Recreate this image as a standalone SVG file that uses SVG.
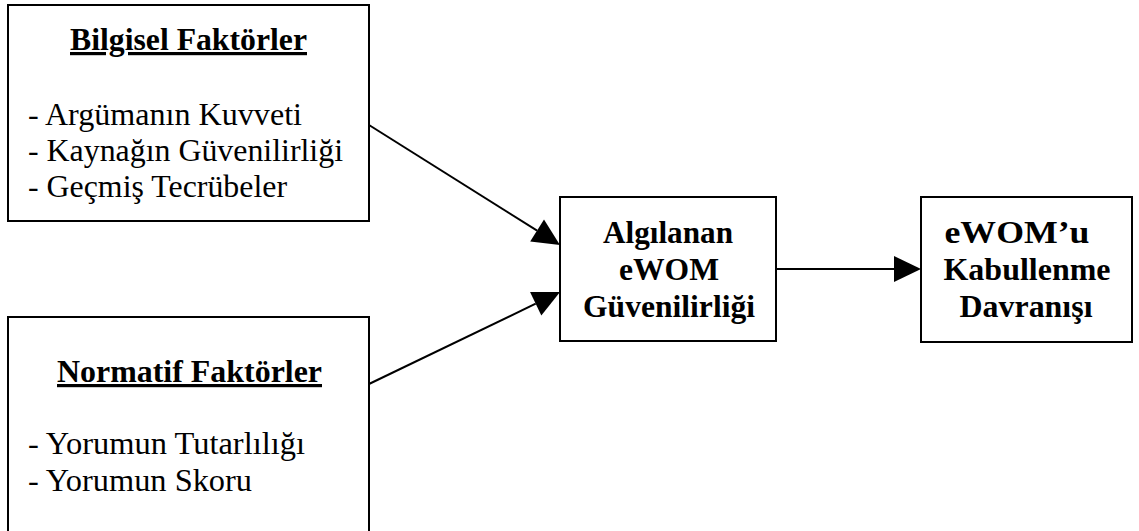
<svg xmlns="http://www.w3.org/2000/svg" width="1139" height="531" viewBox="0 0 1139 531">
  <style>
    .box { fill: #ffffff; stroke: #000000; stroke-width: 2; }
    .edge { stroke: #000000; stroke-width: 2; fill: none; }
    .t { font-family: 'Liberation Serif', 'Times New Roman', serif; font-size: 32px; fill: #000000; }
    .title { font-weight: bold; text-decoration: underline; }
    .bold { font-weight: bold; text-anchor: middle; }
  </style>
  <defs>
    <marker id="arrow" markerUnits="userSpaceOnUse" viewBox="0 -15 30 30" markerWidth="30" markerHeight="30" refX="0" refY="0" orient="auto" overflow="visible">
      <path d="M0,-13 L27,0 L0,13 Z" fill="#000000"/>
    </marker>
  </defs>
  <rect width="1139" height="531" fill="#ffffff"/>

  <!-- informational factors -->
  <g id="bilgisel">
    <rect class="box" x="8" y="5" width="361" height="216"/>
    <text class="t title" x="70" y="50" textLength="237" lengthAdjust="spacingAndGlyphs">Bilgisel Faktörler</text>
    <text class="t" x="28" y="125" textLength="274" lengthAdjust="spacingAndGlyphs">- Argümanın Kuvveti</text>
    <text class="t" x="28" y="161" textLength="315" lengthAdjust="spacingAndGlyphs">- Kaynağın Güvenilirliği</text>
    <text class="t" x="28" y="197" textLength="259" lengthAdjust="spacingAndGlyphs">- Geçmiş Tecrübeler</text>
  </g>

  <!-- normative factors -->
  <g id="normatif">
    <rect class="box" x="8" y="317" width="361" height="230"/>
    <text class="t title" x="57" y="382" textLength="265" lengthAdjust="spacingAndGlyphs">Normatif Faktörler</text>
    <text class="t" x="28" y="454" textLength="277" lengthAdjust="spacingAndGlyphs">- Yorumun Tutarlılığı</text>
    <text class="t" x="28" y="491" textLength="224" lengthAdjust="spacingAndGlyphs">- Yorumun Skoru</text>
  </g>

  <g id="algilanan">
    <rect class="box" x="560" y="197" width="216" height="144"/>
    <text class="t bold" x="668" y="243" textLength="130" lengthAdjust="spacingAndGlyphs">Algılanan</text>
    <text class="t bold" x="669" y="280" textLength="100" lengthAdjust="spacingAndGlyphs">eWOM</text>
    <text class="t bold" x="669" y="317" textLength="172" lengthAdjust="spacingAndGlyphs">Güvenilirliği</text>
  </g>

  <g id="kabullenme">
    <rect class="box" x="921" y="197" width="211" height="145"/>
    <text class="t bold" x="1017" y="243" textLength="145" lengthAdjust="spacingAndGlyphs">eWOM’u</text>
    <text class="t bold" x="1027" y="280" textLength="167" lengthAdjust="spacingAndGlyphs">Kabullenme</text>
    <text class="t bold" x="1026" y="317" textLength="133" lengthAdjust="spacingAndGlyphs">Davranışı</text>
  </g>

  <g id="connectors">
    <line class="edge" x1="369" y1="125" x2="537.1" y2="230.6" marker-end="url(#arrow)"/>
    <line class="edge" x1="369" y1="384" x2="535.7" y2="303.7" marker-end="url(#arrow)"/>
    <line class="edge" x1="776" y1="269" x2="894" y2="269" marker-end="url(#arrow)"/>
  </g>
</svg>
